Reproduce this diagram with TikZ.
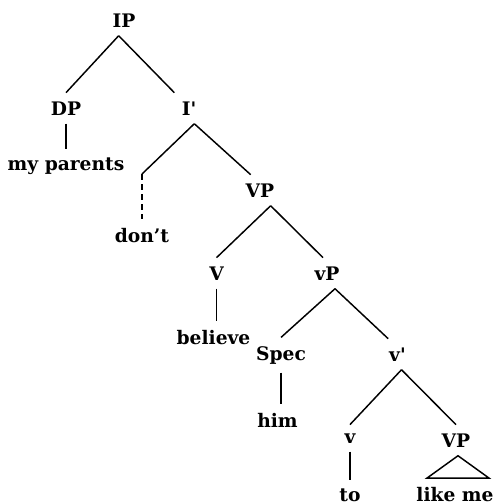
\documentclass[tikz,border=0pt]{standalone}
\usepackage{fontspec}
\setmainfont{DejaVu Serif}

\tikzset{every picture/.style={line width=1.1pt}}
\tikzset{lbl/.style={anchor=base, inner xsep=1pt, inner ysep=6pt, font=\bfseries\fontsize{14}{16}\selectfont}}

\begin{document}
\begin{tikzpicture}[x=0.75pt,y=0.75pt,yscale=-1,xscale=1]
%set diagram left start at 0, and has height of 504
\useasboundingbox (0,0) rectangle (495,504);

% Text Node
\draw (124,27) node [lbl] (IP) {IP};
% Text Node
\draw (66,115) node [lbl] (DP) {DP};
% Text Node
\draw (189,115) node [lbl] (Ibar) {I\textquotesingle};
% Text Node
\draw (66,170) node [lbl] (parents) {my parents};
% Text Node
\draw (142,242) node [lbl] (dont) {don't};
% Text Node
\draw (260,197) node [lbl] (VP) {VP};
% Text Node
\draw (216.5,280) node [lbl] (V) {V};
% Text Node
\draw (327,280) node [lbl] (vP) {vP};
% Text Node
\draw (213.5,344) node [lbl] (believe) {believe};
% Text Node
\draw (281,360) node [lbl] (Spec) {Spec};
% Text Node
\draw (397.5,361) node [lbl] (vbar) {v\textquotesingle};
% Text Node
\draw (277.5,427) node [lbl] (him) {him};
% Text Node
\draw (350,443) node [lbl] (v) {v};
% Text Node
\draw (456,447) node [lbl] (VPlow) {VP};
% Text Node
\draw (350,501) node [lbl] (to) {to};
% Text Node
\draw (455,501) node [lbl] (likeme) {like me};

%empty head under I'
\coordinate (Ihead) at (142,174);

%Straight Lines
\draw ([xshift=-4pt]IP.south) -- (DP.north);
\draw ([xshift=-4pt]IP.south) -- ([xshift=-11pt]Ibar.north);
\draw (DP.south) -- (DP.south |- parents.north);
\draw ([xshift=4pt]Ibar.south) -- (Ihead);
\draw [dash pattern={on 4.5pt off 3pt}] (Ihead) -- (Ihead |- dont.north);
\draw ([xshift=4pt]Ibar.south) -- ([xshift=-7pt]VP.north);
\draw ([xshift=8pt]VP.south) -- (V.north);
\draw ([xshift=8pt]VP.south) -- ([xshift=-3pt]vP.north);
\draw (V.south) -- (V.south |- believe.north);
\draw ([xshift=6pt]vP.south) -- (Spec.north);
\draw ([xshift=6pt]vP.south) -- ([xshift=-7pt]vbar.north);
\draw (Spec.south) -- (Spec.south |- him.north);
\draw ([xshift=3pt]vbar.south) -- (v.north);
\draw ([xshift=3pt]vbar.south) -- (VPlow.north);
\draw (v.south) -- (v.south |- to.north);
%Shape: Triangle
\draw ([xshift=1.5pt]VPlow.south) -- ([xshift=-21pt]likeme.north) -- ([xshift=25.5pt]likeme.north) -- cycle;
\end{tikzpicture}
\end{document}
